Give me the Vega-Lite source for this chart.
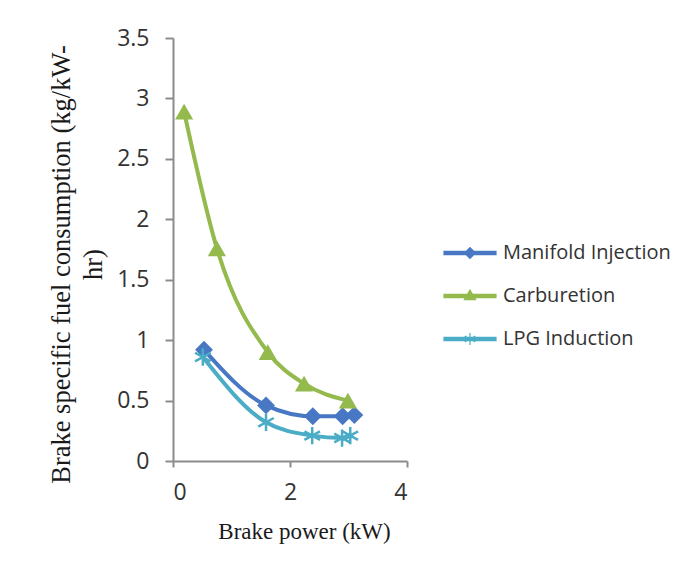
{
  "$schema": "https://vega.github.io/schema/vega-lite/v6.json",
  "autosize": "none",
  "width": 234,
  "height": 423,
  "padding": {"left": 173, "top": 38, "right": 291, "bottom": 116},
  "background": "white",
  "config": {
    "view": {"stroke": null},
    "axis": {
      "grid": false,
      "domainColor": "#8c8c8c",
      "domainWidth": 2,
      "tickColor": "#8c8c8c",
      "tickWidth": 2,
      "labelFont": "Open Sans",
      "labelFontSize": 23,
      "labelColor": "#333333",
      "titleFont": "Liberation Serif",
      "titleFontWeight": "normal",
      "titleColor": "#1a1a1a"
    }
  },
  "data": {
    "values": [
      {"series": "Manifold Injection", "bp": 0.53, "bsfc": 0.92},
      {"series": "Manifold Injection", "bp": 1.59, "bsfc": 0.46},
      {"series": "Manifold Injection", "bp": 2.39, "bsfc": 0.37},
      {"series": "Manifold Injection", "bp": 2.9, "bsfc": 0.37},
      {"series": "Manifold Injection", "bp": 3.1, "bsfc": 0.38},
      {"series": "Carburetion", "bp": 0.19, "bsfc": 2.89},
      {"series": "Carburetion", "bp": 0.75, "bsfc": 1.76},
      {"series": "Carburetion", "bp": 1.62, "bsfc": 0.9},
      {"series": "Carburetion", "bp": 2.24, "bsfc": 0.64},
      {"series": "Carburetion", "bp": 2.99, "bsfc": 0.5},
      {"series": "LPG Induction", "bp": 0.51, "bsfc": 0.86},
      {"series": "LPG Induction", "bp": 1.59, "bsfc": 0.32},
      {"series": "LPG Induction", "bp": 2.38, "bsfc": 0.21},
      {"series": "LPG Induction", "bp": 2.89, "bsfc": 0.19},
      {"series": "LPG Induction", "bp": 3.03, "bsfc": 0.21}
    ]
  },
  "encoding": {
    "x": {
      "field": "bp", "type": "quantitative",
      "scale": {"domain": [0, 4], "nice": false},
      "axis": {"values": [0, 2, 4], "format": "~g", "tickSize": 6, "labelPadding": 14, "title": "Brake power (kW)", "titleFontSize": 23, "titlePadding": 16, "titleX": 131}
    },
    "y": {
      "field": "bsfc", "type": "quantitative",
      "scale": {"domain": [0, 3.5], "nice": false},
      "axis": {"values": [0, 0.5, 1, 1.5, 2, 2.5, 3, 3.5], "format": "~g", "tickSize": 8, "labelPadding": 16, "title": ["Brake specific fuel consumption (kg/kW-", "hr)"], "titleFontSize": 26.5, "titleLineHeight": 32, "titlePadding": 9, "titleY": 226}
    },
    "color": {
      "field": "series", "type": "nominal",
      "scale": {"domain": ["Manifold Injection", "Carburetion", "LPG Induction"], "range": ["#4878C4", "#94BA4E", "#4BACC6"]},
      "legend": {
        "title": null,
        "orient": "none",
        "legendX": 276,
        "legendY": 194,
        "padding": 0,
        "symbolSize": 1600,
        "rowPadding": 12,
        "labelOffset": 12,
        "labelLimit": 400,
        "labelFont": "Open Sans",
        "labelFontSize": 20,
        "labelColor": "#333333",
        "encode": {
          "symbols": {
            "update": {
              "shape": {"signal": "datum.value === 'Manifold Injection' ? 'M-1.3,-0.08L1.3,-0.08L1.3,0.08L-1.3,0.08ZM0,-0.27L0.27,0L0,0.27L-0.27,0Z' : datum.value === 'Carburetion' ? 'M-1.3,-0.08L1.3,-0.08L1.3,0.08L-1.3,0.08ZM0,-0.3L0.28,0.18L-0.28,0.18Z' : 'M-1.3,-0.08L1.3,-0.08L1.3,0.08L-1.3,0.08ZM0,-0.3L0,0.3M-0.26,-0.15L0.26,0.15M-0.26,0.15L0.26,-0.15'"},
              "fill": {"signal": "datum.value === 'Manifold Injection' ? '#4878C4' : datum.value === 'Carburetion' ? '#94BA4E' : '#4BACC6'"},
              "stroke": {"signal": "datum.value === 'Manifold Injection' ? '#4878C4' : datum.value === 'Carburetion' ? '#94BA4E' : '#4BACC6'"},
              "strokeWidth": {"value": 1.2},
              "opacity": {"value": 1},
              "fillOpacity": {"value": 1},
              "strokeOpacity": {"value": 1}
            }
          }
        }
      }
    }
  },
  "layer": [
    {
      "mark": {"type": "line", "interpolate": "monotone", "strokeWidth": 4}
    },
    {
      "transform": [{"filter": "datum.series === 'Manifold Injection'"}],
      "mark": {"type": "point", "shape": "diamond", "filled": true, "opacity": 1, "size": 320}
    },
    {
      "transform": [{"filter": "datum.series === 'Carburetion'"}],
      "mark": {"type": "point", "shape": "triangle-up", "filled": true, "opacity": 1, "size": 330}
    },
    {
      "transform": [{"filter": "datum.series === 'LPG Induction'"}],
      "mark": {"type": "point", "shape": "M0,-1L0,1M-0.9,-0.5L0.9,0.5M-0.9,0.5L0.9,-0.5", "filled": false, "opacity": 1, "strokeWidth": 2.5, "size": 300}
    }
  ]
}
